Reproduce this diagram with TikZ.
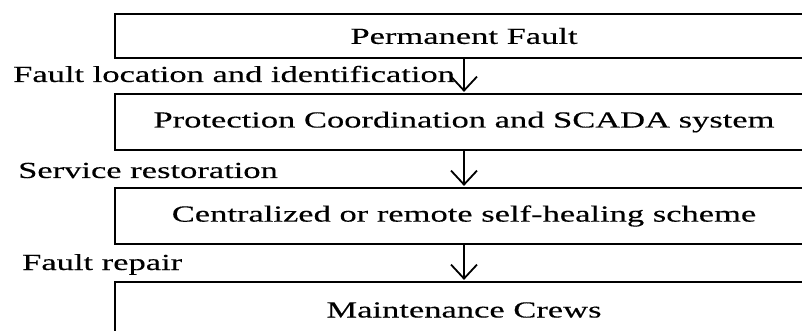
\documentclass[tikz,border=0pt]{standalone}
\usepackage{fontspec}
\setmainfont{Liberation Serif}[FakeStretch=1.5, FakeBold=0.3]
\usetikzlibrary{arrows.meta}
\begin{document}
\begin{tikzpicture}[x=1pt,y=-1pt,
  stagebox/.style={draw, line width=2.2pt, minimum width=698pt, inner sep=0pt,
    font=\fontsize{23}{27}\selectfont, text=black},
  steplabel/.style={anchor=base west, inner sep=0pt, font=\fontsize{23}{27}\selectfont},
  flow/.style={line width=1.8pt, -{Straight Barb[length=14pt,width=26pt,line width=1.8pt]}, shorten >=1pt}]
  \useasboundingbox (0,0) rectangle (802,331);
  \clip (0,0) rectangle (802,331);

  % stages of the fault handling process
  \node[stagebox, minimum height=44pt] (fault) at (464,36) {Permanent Fault};
  \node[stagebox, minimum height=56pt] (scada) at (464,122) {Protection Coordination and SCADA system};
  \node[stagebox, minimum height=56pt] (heal) at (464,216) {Centralized or remote self-healing scheme};
  \node[stagebox, minimum height=56pt] (crew) at (464,310) {Maintenance Crews};

  % transitions between stages
  \draw[flow] (fault.south) -- (scada.north);
  \draw[flow] (scada.south) -- (heal.north);
  \draw[flow] (heal.south) -- (crew.north);

  % transition labels
  \node[steplabel] (l1) at (13,82) {Fault location and identification};
  \node[steplabel] (l2) at (18,178) {Service restoration};
  \node[steplabel] (l3) at (22,270) {Fault repair};
\end{tikzpicture}
\end{document}
